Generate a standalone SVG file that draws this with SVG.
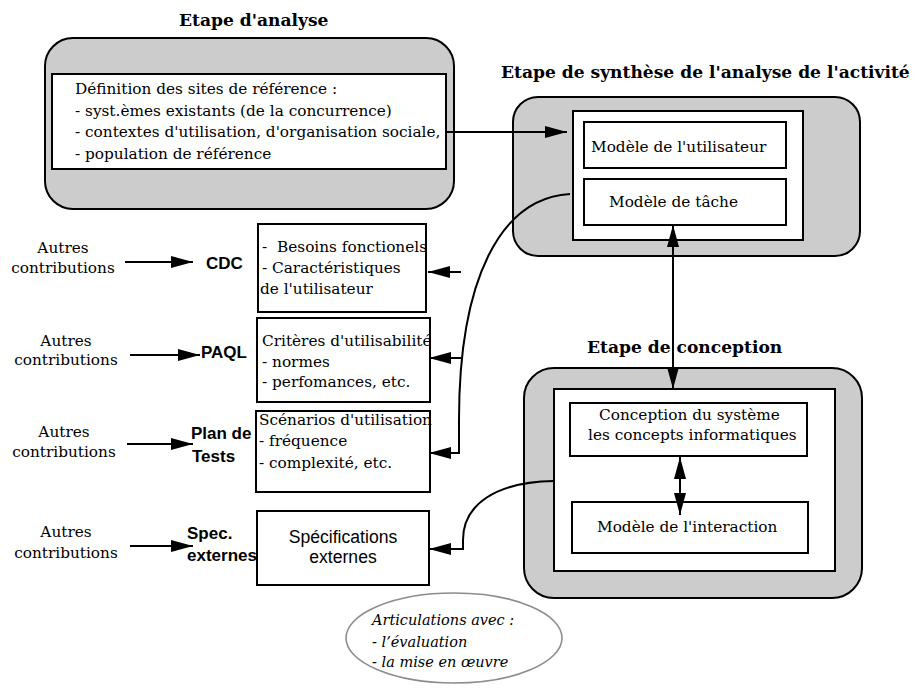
<svg xmlns="http://www.w3.org/2000/svg" width="915" height="690" viewBox="0 0 915 690">
  <style>
    .stage { fill: #cccccc; stroke: #000; stroke-width: 2; }
    .box { fill: #fff; stroke: #000; stroke-width: 2; }
    .t { font-family: "DejaVu Serif", serif; font-size: 15.3px; fill: #000; }
    .title { font-family: "DejaVu Serif", serif; font-size: 17.1px; font-weight: bold; fill: #000; }
    .lbl { font-family: "Liberation Sans", Arial, sans-serif; font-size: 17px; font-weight: bold; fill: #000; }
    .sans { font-family: "Liberation Sans", Arial, sans-serif; font-size: 17.6px; fill: #000; }
    .it { font-family: "DejaVu Serif", serif; font-size: 14.5px; font-style: italic; fill: #000; }
    .wire { fill: none; stroke: #000; stroke-width: 2; }
    .arrow { marker-end: url(#head); }
    .both { marker-start: url(#head); marker-end: url(#head); }
  </style>
  <defs>
    <marker id="head" viewBox="0 0 22 12" refX="22" refY="6" markerWidth="22" markerHeight="12" markerUnits="userSpaceOnUse" orient="auto-start-reverse">
      <path d="M0,0 L22,6 L0,12 z" fill="#000"/>
    </marker>
  </defs>

  <rect width="915" height="690" fill="#fff"/>

  <!-- Analysis stage -->
  <g id="etape-analyse">
    <text class="title" x="179" y="26">Etape d'analyse</text>
    <rect class="stage" x="45" y="38" width="409" height="171" rx="28"/>
    <rect class="box" x="52" y="74" width="394" height="95"/>
    <text class="t" x="75" y="94">Définition des sites de référence :</text>
    <text class="t" x="75" y="115.5">- syst.èmes existants (de la concurrence)</text>
    <text class="t" x="75" y="137">- contextes d'utilisation, d'organisation sociale,</text>
    <text class="t" x="75" y="158.5">- population de référence</text>
  </g>

  <!-- Synthesis stage -->
  <g id="etape-synthese">
    <text class="title" x="501" y="78">Etape de synthèse de l'analyse de l'activité</text>
    <rect class="stage" x="513" y="97" width="347" height="159" rx="25"/>
    <rect class="box" x="573" y="111" width="230" height="129"/>
    <rect class="box" x="584" y="122" width="202" height="46"/>
    <text class="t" x="591" y="152">Modèle de l'utilisateur</text>
    <rect class="box" x="584" y="179" width="202" height="46"/>
    <text class="t" x="609" y="207">Modèle de tâche</text>
  </g>

  <!-- Design stage -->
  <g id="etape-conception">
    <text class="title" x="587" y="353">Etape de conception</text>
    <rect class="stage" x="524" y="368" width="338" height="230" rx="30"/>
    <rect class="box" x="554" y="389" width="281" height="182"/>
    <rect class="box" x="570" y="403" width="237" height="53"/>
    <text class="t" x="599" y="420">Conception du système</text>
    <text class="t" x="588" y="440">les concepts informatiques</text>
    <rect class="box" x="572" y="502" width="236" height="51"/>
    <text class="t" x="597" y="532">Modèle de l'interaction</text>
  </g>

  <!-- Deliverables column -->
  <g id="cdc">
    <text class="t" x="63" y="253" text-anchor="middle">Autres</text>
    <text class="t" x="63" y="273" text-anchor="middle">contributions</text>
    <text class="lbl" x="206" y="269">CDC</text>
    <rect class="box" x="258" y="224" width="168" height="88"/>
    <text class="t" x="262" y="252">-<tspan x="277">Besoins fonctionels</tspan></text>
    <text class="t" x="262" y="273">- Caractéristiques</text>
    <text class="t" x="260" y="294">de l'utilisateur</text>
  </g>

  <g id="paql">
    <text class="t" x="66" y="346" text-anchor="middle">Autres</text>
    <text class="t" x="66" y="365" text-anchor="middle">contributions</text>
    <text class="lbl" x="201" y="358">PAQL</text>
    <rect class="box" x="257" y="318" width="173" height="84"/>
    <text class="t" x="262" y="346">Critères d'utilisabilité</text>
    <text class="t" x="262" y="367">- normes</text>
    <text class="t" x="262" y="387">- perfomances, etc.</text>
  </g>

  <g id="plan-de-tests">
    <text class="t" x="64" y="437" text-anchor="middle">Autres</text>
    <text class="t" x="64" y="457" text-anchor="middle">contributions</text>
    <text class="lbl" x="191" y="439">Plan de</text>
    <text class="lbl" x="192" y="462">Tests</text>
    <rect class="box" x="256" y="411" width="174" height="81"/>
    <text class="t" x="259" y="425">Scénarios d'utilisation</text>
    <text class="t" x="259" y="446">- fréquence</text>
    <text class="t" x="259" y="468">- complexité, etc.</text>
  </g>

  <g id="spec-externes">
    <text class="t" x="66" y="537" text-anchor="middle">Autres</text>
    <text class="t" x="66" y="558" text-anchor="middle">contributions</text>
    <text class="lbl" x="187" y="539">Spec.</text>
    <text class="lbl" x="187" y="561">externes</text>
    <rect class="box" x="257" y="511" width="172" height="74"/>
    <text class="sans" x="343" y="543" text-anchor="middle">Spécifications</text>
    <text class="sans" x="343" y="563" text-anchor="middle">externes</text>
  </g>

  <!-- Articulations note -->
  <g id="articulations">
    <ellipse cx="454" cy="638" rx="108" ry="45" fill="#fff" stroke="#8c8c8c" stroke-width="1.6"/>
    <text class="it" x="372" y="625">Articulations avec :</text>
    <text class="it" x="372" y="647">- l’évaluation</text>
    <text class="it" x="372" y="667">- la mise en œuvre</text>
  </g>

  <!-- Connectors -->
  <g id="connectors">
    <path class="wire arrow" d="M125,262 H193"/>
    <path class="wire arrow" d="M130,355 H200"/>
    <path class="wire arrow" d="M127,444 H193"/>
    <path class="wire arrow" d="M130,546 H193"/>
    <path class="wire arrow" d="M446,132 H567"/>
    <path class="wire arrow" d="M461,272 H428"/>
    <path class="wire arrow" d="M461,358 H429"/>
    <path class="wire arrow" d="M570,194 C500,198 459,280 459,420 V453 H429"/>
    <path class="wire arrow" d="M554,481 C495,482 463,505 463,540 V549 H429"/>
    <path class="wire both" d="M673,225 V389"/>
    <path class="wire both" d="M680,457 V515"/>
  </g>
</svg>
